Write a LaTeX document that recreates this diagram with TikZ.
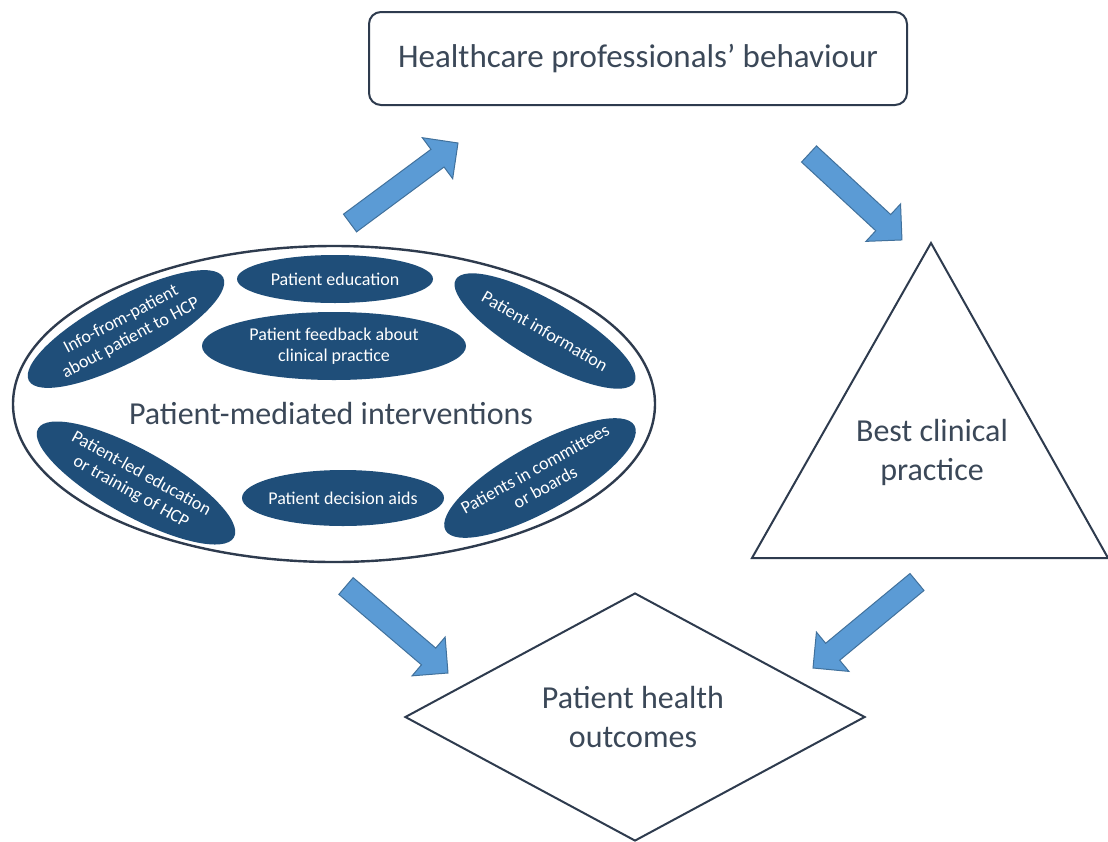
\documentclass[tikz,border=0pt]{standalone}
\usepackage{fontspec}
\setmainfont{Carlito}
\usetikzlibrary{shapes.geometric,shapes.arrows,calc}
\definecolor{ink}{HTML}{2E3B4E}
\definecolor{txt}{HTML}{3B4858}
\definecolor{navy}{HTML}{1F4E79}
\definecolor{arrfill}{HTML}{5B9BD5}
\definecolor{arredge}{HTML}{41719C}
\newcommand\fatarrow[2]{\path let \p1=($(#2)-(#1)$), \n1={atan2(\y1,\x1)}, \n2={veclen(\x1,\y1)} in node[blockarr, minimum height=\n2, rotate=\n1, anchor=tail] at (#1) {};}
\begin{document}
\begin{tikzpicture}[x=1pt,y=-1pt,
 bigtext/.style={text=txt, font=\fontsize{32}{39}\selectfont, align=center},
 pill/.style={ellipse, fill=navy, inner sep=0pt, outer sep=0pt},
 pilltext/.style={text=white, font=\fontsize{18}{21}\selectfont, align=center, inner sep=0pt},
 blockarr/.style={single arrow, single arrow head extend=14.5pt, inner xsep=0pt, inner ysep=10.5pt, outer sep=0pt, fill=arrfill, draw=arredge, line width=1pt}]
\useasboundingbox (0,0) rectangle (1108,841);
\fill[white] (0,0) rectangle (1108,841);

% top box
\node[draw=ink, line width=2pt, rounded corners=12pt, minimum width=538pt, minimum height=93pt, text=txt, font=\fontsize{33}{40}\selectfont] (hcp) at (638,58.5) {Healthcare professionals’ behaviour};

% big ellipse
\node[ellipse, draw=ink, line width=2.4pt, minimum width=642pt, minimum height=316pt, inner sep=0pt] (pmi) at (334,404) {};
\node[bigtext] (pmilabel) at (331,413) {Patient-mediated interventions};

% pills
\node[pill, minimum width=196pt, minimum height=48pt] (edu) at (335,279) {};
\node[pilltext] (edut) at (edu) {Patient education};
\node[pill, minimum width=264pt, minimum height=68pt] (fb) at (334,346) {};
\node[pilltext] (fbt) at (fb) {Patient feedback about\\clinical practice};
\node[pill, minimum width=220pt, minimum height=64pt, rotate=28] (info) at (126,329) {};
\node[pilltext, rotate=28] (infot) at (info) {Info-from-patient\\about patient to HCP};
\node[pill, minimum width=206pt, minimum height=60pt, rotate=-30] (pinf) at (545,331) {};
\node[pilltext, rotate=-30] (pinft) at (pinf) {Patient information};
\node[pill, minimum width=224pt, minimum height=66pt, rotate=-29] (led) at (136,483) {};
\node[pilltext, rotate=-29] (ledt) at (led) {Patient-led education\\or training of HCP};
\node[pill, minimum width=202pt, minimum height=56pt] (dec) at (343,498) {};
\node[pilltext] (dect) at (dec) {Patient decision aids};
\node[pill, minimum width=216pt, minimum height=66pt, rotate=29] (com) at (540,478) {};
\node[pilltext, rotate=29] (comt) at (com) {Patients in committees\\or boards};

% triangle
\coordinate (tA) at (931,243);
\coordinate (tB) at (752,558);
\coordinate (tC) at (1108,558);
\draw[ink, line width=2pt, line join=miter] (tA) -- (tB) -- (tC) -- cycle;
\node[bigtext] (bcp) at (932,452) {Best clinical\\practice};

% diamond
\node[diamond, draw=ink, line width=2pt, minimum width=460pt, minimum height=248pt, inner sep=0pt] (pho) at (635,717) {};
\node[bigtext] (phot) at (633,717) {Patient health\\outcomes};

% block arrows
\coordinate (a1s) at (350,223); \coordinate (a1e) at (458,143);
\coordinate (a2s) at (809,154); \coordinate (a2e) at (902,240);
\coordinate (a3s) at (346,586); \coordinate (a3e) at (448,673);
\coordinate (a4s) at (917,582); \coordinate (a4e) at (813,668);
\fatarrow{a1s}{a1e}
\fatarrow{a2s}{a2e}
\fatarrow{a3s}{a3e}
\fatarrow{a4s}{a4e}
\end{tikzpicture}
\end{document}
